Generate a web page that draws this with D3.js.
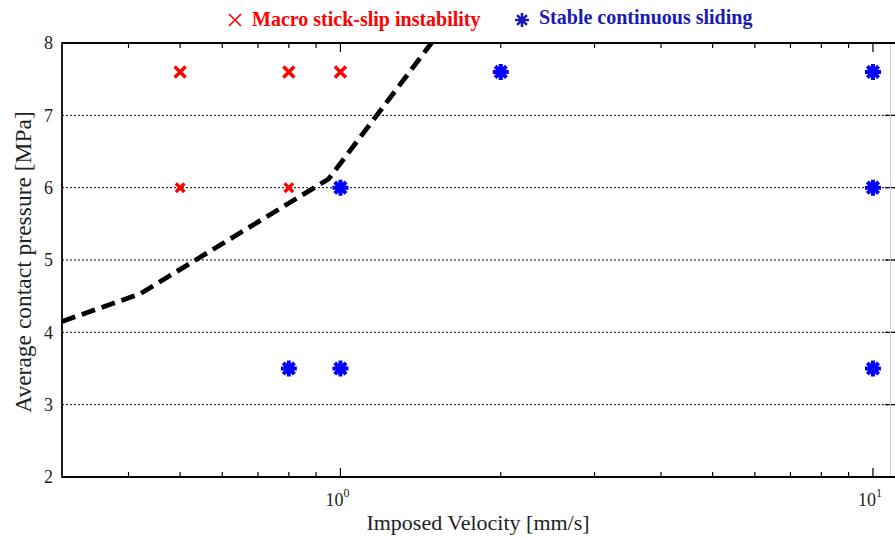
<!DOCTYPE html>
<html>
<head>
<meta charset="utf-8">
<script src="https://cdn.jsdelivr.net/npm/d3@7"></script>
<style>
  html, body { margin: 0; padding: 0; background: #fff; }
  svg { display: block; font-family: "Liberation Serif", "Times New Roman", serif; }
</style>
</head>
<body>
<svg id="chart" width="895" height="538"></svg>
<script>
// Experimental runs: imposed velocity [mm/s] and average contact pressure [MPa]
const stickSlipVelocity = [0.5, 0.8, 1.0, 0.5, 0.8];
const stickSlipPressure = [7.6, 7.6, 7.6, 6.0, 6.0];

const stableVelocity = [2.0, 10, 1.0, 10, 0.8, 1.0, 10];
const stablePressure = [7.6, 7.6, 6.0, 6.0, 3.5, 3.5, 3.5];

// Boundary between the two regimes
const boundaryVelocity = [0.3, 0.42, 0.95, 1.5];
const boundaryPressure = [4.15, 4.53, 6.12, 8.05];

const yTicks = [2, 3, 4, 5, 6, 7, 8];
const xMajorTicks = [1, 10];
const xMinorTicks = [0.4, 0.5, 0.6, 0.7, 0.8, 0.9, 2, 3, 4, 5, 6, 7, 8, 9];

const legendLabels = ["Macro stick-slip instability", "Stable continuous sliding"];
const xTitle = "Imposed Velocity [mm/s]";
const yTitle = "Average contact pressure [MPa]";

const svg = d3.select("#chart");
const m = { left: 62, right: 895, top: 43, bottom: 477 };

const x = d3.scaleLog().domain([0.3, 11]).range([m.left, m.right]);
const y = d3.scaleLinear().domain([2, 8]).range([m.bottom, m.top]);

svg.append("defs").append("clipPath").attr("id", "plotClip")
  .append("rect")
  .attr("x", m.left).attr("y", m.top)
  .attr("width", m.right - m.left).attr("height", m.bottom - m.top);

// Dotted horizontal grid
svg.append("g")
  .selectAll("line")
  .data(yTicks.filter(t => t > 2 && t < 8))
  .join("line")
  .attr("x1", m.left).attr("x2", m.right)
  .attr("y1", d => y(d)).attr("y2", d => y(d))
  .attr("stroke", "#000").attr("stroke-width", 1)
  .attr("stroke-dasharray", "2,2");

// Right-side tick marks at each grid level
svg.append("g")
  .selectAll("line")
  .data(yTicks)
  .join("line")
  .attr("x1", m.right - 10).attr("x2", m.right)
  .attr("y1", d => y(d)).attr("y2", d => y(d))
  .attr("stroke", "#000").attr("stroke-width", 1.2);

// Thin grey frame line at the right
svg.append("line")
  .attr("x1", 890.5).attr("x2", 890.5)
  .attr("y1", m.top).attr("y2", m.bottom)
  .attr("stroke", "#cfcfcf").attr("stroke-width", 1);

// Bottom and top axis ticks, pointing inside
const tickGroup = svg.append("g").attr("stroke", "#000").attr("stroke-width", 1.2);
[[m.bottom, -1], [m.top, 1]].forEach(([yy, dir]) => {
  tickGroup.selectAll(null)
    .data(xMajorTicks)
    .join("line")
    .attr("x1", d => x(d)).attr("x2", d => x(d))
    .attr("y1", yy).attr("y2", yy + dir * 9);
  tickGroup.selectAll(null)
    .data(xMinorTicks)
    .join("line")
    .attr("x1", d => x(d)).attr("x2", d => x(d))
    .attr("y1", yy).attr("y2", yy + dir * 5);
});

// Axis lines
svg.append("line")
  .attr("x1", m.left).attr("x2", m.left).attr("y1", m.top - 0.75).attr("y2", m.bottom + 0.75)
  .attr("stroke", "#000").attr("stroke-width", 1.8);
svg.append("line")
  .attr("x1", m.left).attr("x2", m.right).attr("y1", m.bottom).attr("y2", m.bottom)
  .attr("stroke", "#000").attr("stroke-width", 1.8);
svg.append("line")
  .attr("x1", m.left).attr("x2", m.right).attr("y1", m.top).attr("y2", m.top)
  .attr("stroke", "#000").attr("stroke-width", 1.8);

// Y tick labels
svg.append("g")
  .selectAll("text")
  .data(yTicks)
  .join("text")
  .attr("x", 53).attr("y", d => y(d))
  .attr("dy", "0.35em")
  .attr("text-anchor", "end")
  .attr("font-size", 18)
  .attr("fill", "#222")
  .text(d => d);

// X tick labels as powers of ten
const xl = svg.append("g")
  .selectAll("text")
  .data(xMajorTicks)
  .join("text")
  .attr("x", d => x(d) - 3).attr("y", 506)
  .attr("text-anchor", "middle")
  .attr("font-size", 18)
  .attr("fill", "#222");
xl.append("tspan").text("10");
xl.append("tspan").attr("font-size", 12).attr("dy", -9).text(d => Math.round(Math.log10(d)));

// Axis titles
svg.append("text")
  .attr("x", 478).attr("y", 530)
  .attr("text-anchor", "middle")
  .attr("font-size", 22)
  .attr("fill", "#222")
  .text(xTitle);
svg.append("text")
  .attr("transform", `translate(31,${(m.top + m.bottom) / 2 + 2}) rotate(-90)`)
  .attr("text-anchor", "middle")
  .attr("font-size", 23.5)
  .attr("fill", "#222")
  .text(yTitle);

// Regime boundary
const boundary = boundaryVelocity.map((v, i) => [v, boundaryPressure[i]]);
svg.append("path")
  .datum(boundary)
  .attr("clip-path", "url(#plotClip)")
  .attr("d", d3.line().x(d => x(d[0])).y(d => y(d[1])))
  .attr("fill", "none")
  .attr("stroke", "#000")
  .attr("stroke-width", 4.8)
  .attr("stroke-dasharray", "14,7");

// Marker shapes
function crossPath(s) {
  return `M${-s},${-s}L${s},${s}M${-s},${s}L${s},${-s}`;
}
function starPath(s) {
  const d = s * Math.SQRT1_2;
  return `M0,${-s}L0,${s}M${-s},0L${s},0M${-d},${-d}L${d},${d}M${-d},${d}L${d},${-d}`;
}

// Stick-slip runs
const stickSlip = stickSlipVelocity.map((v, i) => ({ v, p: stickSlipPressure[i] }));
svg.append("g")
  .selectAll("path")
  .data(stickSlip)
  .join("path")
  .attr("transform", d => `translate(${x(d.v)},${y(d.p)})`)
  .attr("d", d => crossPath(d.p > 7 ? 5.5 : 4.3))
  .attr("stroke", "#ff0000")
  .attr("stroke-width", 3.4)
  .attr("fill", "none");

// Stable sliding runs
const stable = stableVelocity.map((v, i) => ({ v, p: stablePressure[i] }));
svg.append("g")
  .selectAll("path")
  .data(stable)
  .join("path")
  .attr("transform", d => `translate(${x(d.v)},${y(d.p)})`)
  .attr("d", starPath(8))
  .attr("stroke", "#0000ff")
  .attr("stroke-width", 4)
  .attr("fill", "none");
svg.append("g")
  .selectAll("circle")
  .data(stable)
  .join("circle")
  .attr("cx", d => x(d.v)).attr("cy", d => y(d.p))
  .attr("r", 4.5)
  .attr("fill", "#0000ff");

// Legend
const legend = svg.append("g");
legend.append("path")
  .attr("transform", "translate(235,20)")
  .attr("d", crossPath(6))
  .attr("stroke", "#ff0000").attr("stroke-width", 1.6).attr("fill", "none");
legend.append("text")
  .attr("x", 252).attr("y", 26)
  .attr("font-size", 20).attr("font-weight", "bold")
  .attr("fill", "#ff0000")
  .text(legendLabels[0]);
legend.append("path")
  .attr("transform", "translate(522,20)")
  .attr("d", starPath(7))
  .attr("stroke", "#1a1ab4").attr("stroke-width", 2.6).attr("fill", "none");
legend.append("text")
  .attr("x", 539).attr("y", 24)
  .attr("font-size", 20).attr("font-weight", "bold")
  .attr("fill", "#1a1ab4")
  .text(legendLabels[1]);
</script>
</body>
</html>
